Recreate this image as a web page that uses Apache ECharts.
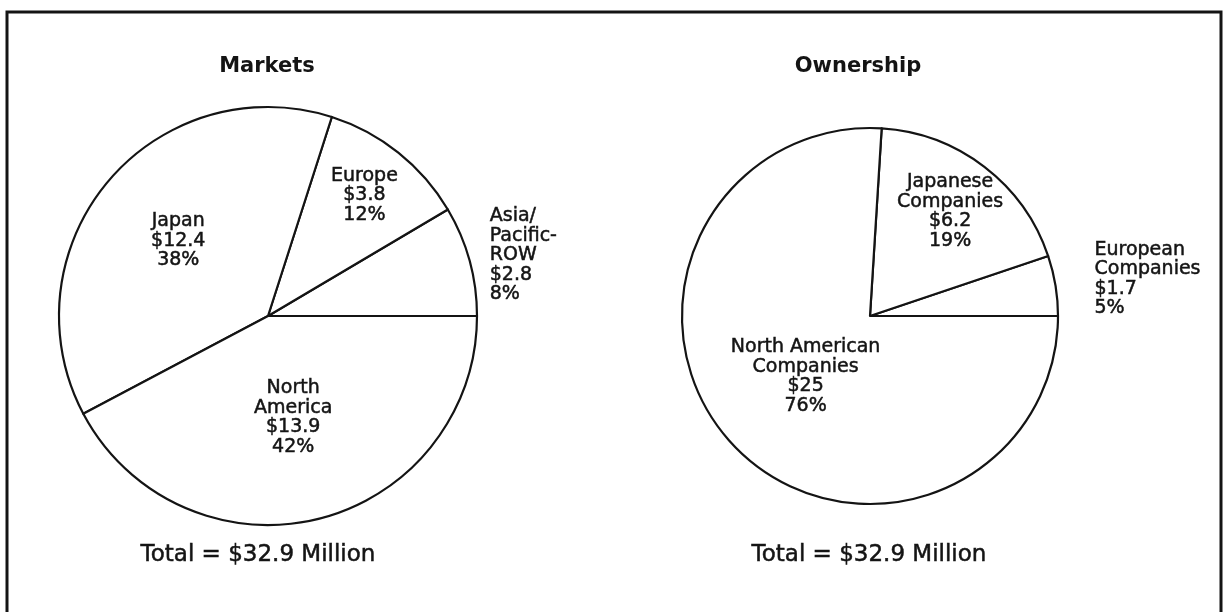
<!DOCTYPE html>
<html>
<head>
<meta charset="utf-8">
<script src="https://cdn.jsdelivr.net/npm/echarts@6/dist/echarts.min.js"></script>
<style>
  html, body { margin: 0; padding: 0; background: #fff; }
  #chart { width: 1228px; height: 612px; }
</style>
</head>
<body>
<div id="chart"></div>
<script>
// Markets pie (counter-clockwise from 3 o'clock)
const marketNames = ['Asia/\nPacific-\nROW', 'Europe', 'Japan', 'North\nAmerica'];
const marketValues = [2.8, 3.8, 12.4, 13.9];
const marketPercents = [8, 12, 38, 42];

// Ownership pie
const ownerNames = ['European\nCompanies', 'Japanese\nCompanies', 'North American\nCompanies'];
const ownerValues = [1.7, 6.2, 25];
const ownerPercents = [5, 19, 76];

const titles = ['Markets', 'Ownership'];

const FONT = '"DejaVu Sans", Verdana, sans-serif';
const INK = '#141414';

// geometry of the two pies and where each slice label sits (fraction of radius)
const pies = [
  { center: [268, 316], radius: 209, labelFrac: [1.1, 0.74, 0.56, 0.5], outside: [true, false, false, false],
    titleX: 267, totalX: 258 },
  { center: [870, 316], radius: 188, labelFrac: [1.21, 0.7, 0.47], outside: [true, false, false],
    titleX: 858, totalX: 869 }
];

function midAngles(values) {
  const total = values.reduce((a, b) => a + b, 0);
  let acc = 0;
  return values.map(v => {
    const a = (acc + v / 2) / total * 2 * Math.PI;
    acc += v;
    return a;
  });
}

function makeSeries(idx, names, values, pcts) {
  const geo = pies[idx];
  const mids = midAngles(values);
  return {
    type: 'pie',
    center: geo.center,
    radius: geo.radius,
    startAngle: 0,
    clockwise: false,
    avoidLabelOverlap: false,
    silent: true,
    animation: false,
    itemStyle: { color: '#ffffff', borderColor: INK, borderWidth: 2.2 },
    label: {
      show: true,
      position: 'inside',
      color: INK,
      fontFamily: FONT,
      fontSize: 19,
      lineHeight: 19.5,
      textBorderColor: INK,
      textBorderWidth: 0.5,
      formatter: p => names[p.dataIndex] + '\n$' + values[p.dataIndex] + '\n' + pcts[p.dataIndex] + '%'
    },
    labelLine: { show: false },
    labelLayout: p => {
      const i = p.dataIndex;
      const r = geo.radius * geo.labelFrac[i];
      const a = mids[i];
      return {
        x: geo.center[0] + r * Math.cos(a),
        y: geo.center[1] - r * Math.sin(a),
        align: geo.outside[i] ? 'left' : 'center',
        verticalAlign: 'middle'
      };
    },
    data: values.map((v, i) => ({ name: names[i], value: v }))
  };
}

const sum = arr => arr.reduce((a, b) => a + b, 0);
const totals = [sum(marketValues), sum(ownerValues)];

const graphics = [
  {
    type: 'rect',
    shape: { x: 7, y: 12, width: 1214, height: 612 },
    style: { fill: null, stroke: INK, lineWidth: 3 },
    silent: true
  }
];
pies.forEach((geo, i) => {
  graphics.push({
    type: 'text', x: geo.titleX, y: 67, silent: true,
    style: { text: titles[i], fontFamily: FONT, fontWeight: 'bold', fontSize: 21, fill: INK, align: 'center', verticalAlign: 'middle' }
  });
  graphics.push({
    type: 'text', x: geo.totalX, y: 555, silent: true,
    style: { text: 'Total = $' + totals[i].toFixed(1) + ' Million', fontFamily: FONT, fontSize: 23, fill: INK,
             stroke: INK, lineWidth: 0.5, align: 'center', verticalAlign: 'middle' }
  });
});

const chart = echarts.init(document.getElementById('chart'), null, { renderer: 'canvas' });
chart.setOption({
  backgroundColor: '#ffffff',
  animation: false,
  series: [
    makeSeries(0, marketNames, marketValues, marketPercents),
    makeSeries(1, ownerNames, ownerValues, ownerPercents)
  ],
  graphic: graphics
});
</script>
</body>
</html>
